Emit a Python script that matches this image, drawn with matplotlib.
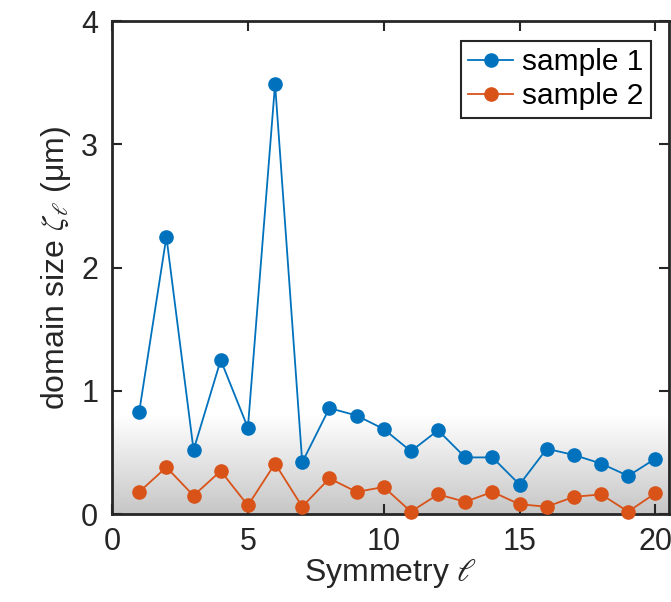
import numpy as np
import matplotlib
matplotlib.use("Agg")
import matplotlib.pyplot as plt
from matplotlib.colors import LinearSegmentedColormap

plt.rcParams['font.family'] = ['Liberation Sans', 'DejaVu Sans']
plt.rcParams['mathtext.fontset'] = 'stix'

# data
symmetry = list(range(1, 21))
sample1 = [0.83, 2.25, 0.52, 1.25, 0.70, 3.49, 0.42, 0.86, 0.80, 0.69,
           0.51, 0.68, 0.46, 0.46, 0.24, 0.53, 0.48, 0.41, 0.31, 0.45]
sample2 = [0.18, 0.38, 0.15, 0.35, 0.07, 0.41, 0.06, 0.29, 0.18, 0.22,
           0.02, 0.16, 0.10, 0.18, 0.08, 0.06, 0.14, 0.16, 0.02, 0.17]
names = ["sample 1", "sample 2"]
colors = ["#0072BD", "#D95319"]

fig = plt.figure(figsize=(6.71, 6.02), dpi=100)
ax = fig.add_axes([0.167, 0.146, 0.830, 0.819])

xmax = 20.5
# grey band at the bottom
grad = np.linspace(0, 1, 256).reshape(-1, 1)
cmap = LinearSegmentedColormap.from_list("band", ["#c6c6c6", "#ffffff"])
ax.imshow(grad, cmap=cmap, extent=[0, xmax, 0, 0.8], origin='lower',
          aspect='auto', zorder=0)

for y, lab, c in zip([sample1, sample2], names, colors):
    ax.plot(symmetry, y, '-o', color=c, lw=1.3, ms=9.5, label=lab,
            clip_on=False, zorder=3)

ax.set_xlim(0, xmax)
ax.set_ylim(0, 4)
ax.set_xticks([0, 5, 10, 15, 20])
ax.set_yticks([0, 1, 2, 3, 4])
ax.tick_params(direction='in', length=7, width=1.5, labelsize=22,
               top=True, right=True, colors='#262626')
ax.tick_params(axis='x', pad=9)
ax.tick_params(axis='y', pad=10)
for s in ax.spines.values():
    s.set_linewidth(2)
    s.set_color('#262626')

ax.set_xlabel(r"Symmetry $\ell$", fontsize=23, color='#262626', labelpad=0)
ax.set_ylabel(r"domain size $\zeta_\ell$ (μm)", fontsize=23, color='#262626', labelpad=6)

leg = ax.legend(loc='upper right', bbox_to_anchor=(0.970, 0.932),
                bbox_transform=fig.transFigure, fontsize=21.5, fancybox=False,
                framealpha=1, edgecolor='#262626', handlelength=1.5,
                borderpad=0.25, labelspacing=0.2, handletextpad=0.3,
                borderaxespad=0)
leg.get_frame().set_linewidth(1.5)

fig.savefig("out.png", dpi=100)
